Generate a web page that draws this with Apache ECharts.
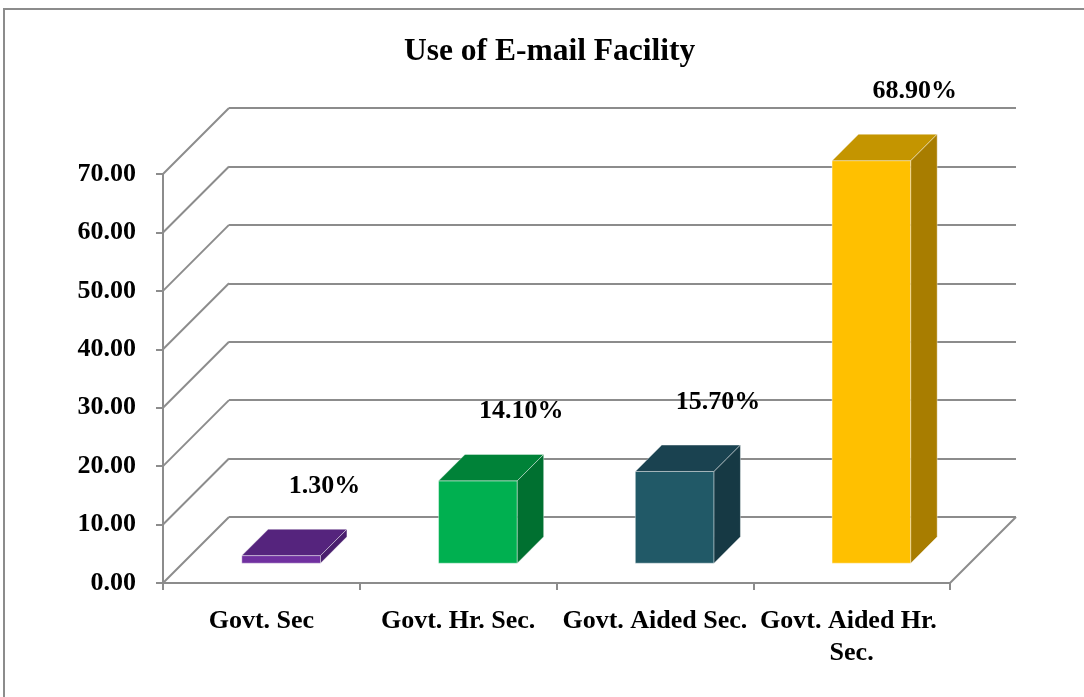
<!DOCTYPE html>
<html>
<head>
<meta charset="utf-8">
<script src="https://cdn.jsdelivr.net/npm/echarts@6/dist/echarts.min.js"></script>
<style>
  html, body { margin: 0; padding: 0; background: #ffffff; }
  #chart { width: 1084px; height: 697px; }
</style>
</head>
<body>
<div id="chart"></div>
<script>
// data
const categories = ['Govt. Sec', 'Govt. Hr. Sec.', 'Govt. Aided Sec.', 'Govt. Aided Hr. Sec.']
const values = [1.3, 14.1, 15.7, 68.9]
const yTicks = [0, 10, 20, 30, 40, 50, 60, 70]

// look
const faceColors = ['#7030a0', '#00b050', '#215967', '#ffc000']
const topColors = ['#55247d', '#008238', '#1a4250', '#c49500']
const sideColors = ['#4a1f6e', '#007030', '#163944', '#a87d00']
const gridColor = '#8c8c8c'
const font = '"Liberation Serif", "Times New Roman", serif'
const DEPTH = 66 // back wall offset (px)

const chart = echarts.init(document.getElementById('chart'))

function renderBar(params, api) {
  const i = api.value(0)
  const v = api.value(1)
  const base = api.coord([i, 0])
  const top = api.coord([i, v])
  const w = api.size([1, 0])[0] * 0.4
  const d0 = DEPTH * 0.3
  const d = DEPTH * 0.4
  const xl = base[0] - w / 2 + d0
  const xr = base[0] + w / 2 + d0
  const yb = base[1] - d0
  const yt = top[1] - d0
  const edge = { stroke: 'rgba(255,255,255,0.5)', lineWidth: 0.8 }
  return {
    type: 'group',
    children: [
      {
        type: 'polygon',
        shape: { points: [[xl, yb], [xr, yb], [xr, yt], [xl, yt]] },
        style: Object.assign({ fill: faceColors[i] }, edge)
      },
      {
        type: 'polygon',
        shape: { points: [[xl, yt], [xr, yt], [xr + d, yt - d], [xl + d, yt - d]] },
        style: Object.assign({ fill: topColors[i] }, edge)
      },
      {
        type: 'polygon',
        shape: { points: [[xr, yb], [xr + d, yb - d], [xr + d, yt - d], [xr, yt]] },
        style: Object.assign({ fill: sideColors[i] }, edge)
      }
    ]
  }
}

function renderLabel(params, api) {
  const i = api.value(0)
  const v = api.value(1)
  const top = api.coord([i, v])
  return {
    type: 'text',
    x: top[0] + DEPTH - 3,
    y: top[1] - DEPTH - 10,
    style: {
      text: v.toFixed(2) + '%',
      fontFamily: font,
      fontSize: 26,
      fontWeight: 'bold',
      fill: '#000000',
      align: 'center',
      verticalAlign: 'bottom'
    }
  }
}

// diagonal lines joining front axis ticks to the back wall
function renderDiag(params, api) {
  const v = api.value(1)
  const p = api.coord([0, v])
  const x0 = params.coordSys.x
  const lines = [{
    type: 'line',
    shape: { x1: x0, y1: p[1], x2: x0 + DEPTH, y2: p[1] - DEPTH },
    style: { stroke: gridColor, lineWidth: 2 }
  }]
  if (v === 0) {
    const x1 = params.coordSys.x + params.coordSys.width
    lines.push({
      type: 'line',
      shape: { x1: x1, y1: p[1], x2: x1 + DEPTH, y2: p[1] - DEPTH },
      style: { stroke: gridColor, lineWidth: 2 }
    })
  }
  return { type: 'group', children: lines }
}

chart.setOption({
  backgroundColor: '#ffffff',
  animation: false,
  title: {
    text: 'Use of E-mail Facility',
    left: 399,
    top: 31,
    textStyle: {
      fontFamily: font,
      fontSize: 31.5,
      fontWeight: 'bold',
      color: '#000000'
    }
  },
  graphic: [{
    type: 'rect',
    shape: { x: 4, y: 9, width: 1200, height: 800 },
    style: { fill: 'none', stroke: gridColor, lineWidth: 2 },
    silent: true
  }],
  grid: [
    { left: 163, right: 134, top: 174, bottom: 114 },
    { left: 163 + DEPTH, right: 134 - DEPTH, top: 174 - DEPTH, bottom: 114 + DEPTH }
  ],
  xAxis: [
    {
      type: 'category',
      gridIndex: 0,
      data: categories,
      axisLine: { lineStyle: { color: gridColor, width: 2 } },
      axisTick: { show: true, length: 7, lineStyle: { color: gridColor, width: 2 } },
      axisLabel: {
        interval: 0,
        margin: 22,
        width: 196,
        overflow: 'break',
        lineHeight: 32,
        fontFamily: font,
        fontSize: 26,
        fontWeight: 'bold',
        color: '#000000'
      }
    },
    {
      type: 'category',
      gridIndex: 1,
      data: categories,
      show: false
    }
  ],
  yAxis: [
    {
      type: 'value',
      gridIndex: 0,
      min: 0,
      max: 70,
      interval: 10,
      axisLine: { show: true, lineStyle: { color: gridColor, width: 2 } },
      axisTick: { show: true, length: 7, lineStyle: { color: gridColor, width: 2 } },
      splitLine: { show: false },
      axisLabel: {
        margin: 27,
        formatter: v => v.toFixed(2),
        fontFamily: font,
        fontSize: 26,
        fontWeight: 'bold',
        color: '#000000'
      }
    },
    {
      type: 'value',
      gridIndex: 1,
      min: 0,
      max: 70,
      interval: 10,
      axisLine: { show: false },
      axisTick: { show: false },
      axisLabel: { show: false },
      splitLine: { show: true, lineStyle: { color: gridColor, width: 2 } }
    }
  ],
  series: [
    {
      type: 'custom',
      name: 'walls',
      xAxisIndex: 0,
      yAxisIndex: 0,
      silent: true,
      renderItem: renderDiag,
      data: yTicks.map(v => [0, v])
    },
    {
      type: 'custom',
      name: 'Use of E-mail Facility',
      xAxisIndex: 0,
      yAxisIndex: 0,
      renderItem: renderBar,
      data: values.map((v, i) => [i, v])
    },
    {
      type: 'custom',
      name: 'labels',
      xAxisIndex: 0,
      yAxisIndex: 0,
      silent: true,
      renderItem: renderLabel,
      data: values.map((v, i) => [i, v])
    }
  ]
})
</script>
</body>
</html>
